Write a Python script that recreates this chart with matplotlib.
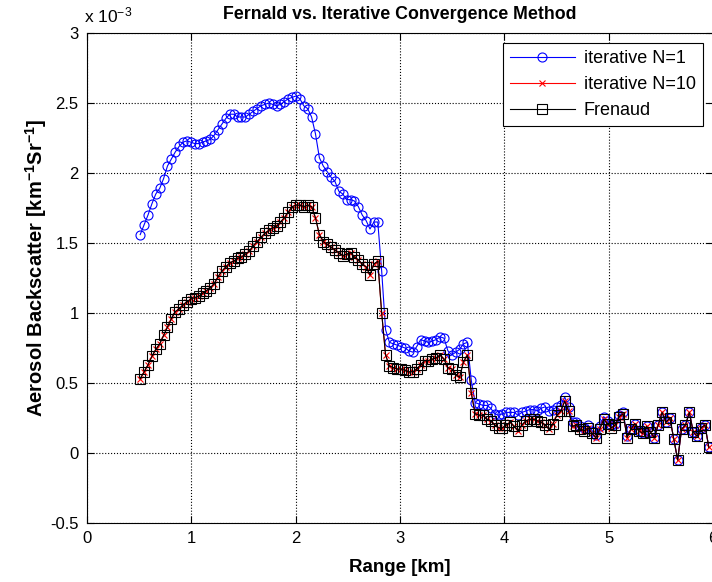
import numpy as np
import matplotlib
matplotlib.use('Agg')
import matplotlib.pyplot as plt

plt.rcParams['font.family'] = ['Liberation Sans', 'DejaVu Sans']
plt.rcParams['axes.unicode_minus'] = False
plt.rcParams['mathtext.default'] = 'regular'

# range gates [km]
range_km = np.linspace(0.51, 5.96, 147)

# backscatter profiles, in units of 1e-3 km^-1 sr^-1
beta_n1 = [
    1.56, 1.63, 1.70, 1.78, 1.85, 1.89, 1.96, 2.05, 2.10, 2.15,
    2.19, 2.22, 2.23, 2.22, 2.21, 2.21, 2.22, 2.23, 2.24, 2.27,
    2.31, 2.35, 2.39, 2.42, 2.42, 2.40, 2.40, 2.40, 2.42, 2.44,
    2.46, 2.48, 2.49, 2.50, 2.49, 2.48, 2.49, 2.51, 2.53, 2.54,
    2.55, 2.53, 2.48, 2.46, 2.40, 2.28, 2.11, 2.05, 2.01, 1.97,
    1.94, 1.87, 1.85, 1.81, 1.81, 1.80, 1.76, 1.70, 1.66, 1.60,
    1.65, 1.65, 1.30, 0.88, 0.79, 0.78, 0.77, 0.76, 0.75, 0.73,
    0.72, 0.76, 0.81, 0.80, 0.79, 0.80, 0.81, 0.83, 0.82, 0.73,
    0.70, 0.72, 0.74, 0.78, 0.79, 0.52, 0.36, 0.35, 0.34, 0.34,
    0.32, 0.28, 0.27, 0.28, 0.29, 0.29, 0.29, 0.27, 0.29, 0.30,
    0.31, 0.31, 0.30, 0.32, 0.33, 0.30, 0.31, 0.33, 0.34, 0.40,
    0.33, 0.22, 0.22, 0.19, 0.18, 0.20, 0.16, 0.13, 0.19, 0.26,
    0.23, 0.20, 0.21, 0.27, 0.29, 0.12, 0.17, 0.21, 0.16, 0.14,
    0.19, 0.15, 0.11, 0.20, 0.29, 0.22, 0.25, 0.10, -0.05, 0.17,
    0.20, 0.29, 0.15, 0.12, 0.18, 0.20, 0.04,
]

beta_n10 = [
    0.53, 0.58, 0.63, 0.69, 0.74, 0.78, 0.84, 0.90, 0.96, 1.01,
    1.03, 1.06, 1.08, 1.10, 1.11, 1.12, 1.14, 1.16, 1.18, 1.21,
    1.26, 1.30, 1.33, 1.36, 1.37, 1.39, 1.40, 1.42, 1.44, 1.48,
    1.51, 1.54, 1.57, 1.59, 1.61, 1.62, 1.65, 1.68, 1.72, 1.76,
    1.77, 1.77, 1.76, 1.77, 1.76, 1.68, 1.56, 1.51, 1.49, 1.47,
    1.45, 1.43, 1.41, 1.42, 1.43, 1.40, 1.38, 1.35, 1.33, 1.27,
    1.35, 1.37, 1.00, 0.70, 0.62, 0.61, 0.60, 0.60, 0.59, 0.58,
    0.58, 0.60, 0.63, 0.66, 0.66, 0.67, 0.68, 0.70, 0.67, 0.61,
    0.60, 0.56, 0.54, 0.65, 0.70, 0.43, 0.28, 0.27, 0.27, 0.24,
    0.23, 0.20, 0.18, 0.18, 0.20, 0.22, 0.19, 0.16, 0.20, 0.23,
    0.24, 0.24, 0.23, 0.22, 0.20, 0.17, 0.21, 0.27, 0.30, 0.37,
    0.30, 0.19, 0.20, 0.17, 0.16, 0.18, 0.14, 0.11, 0.17, 0.24,
    0.21, 0.18, 0.20, 0.26, 0.28, 0.11, 0.17, 0.21, 0.16, 0.14,
    0.19, 0.15, 0.11, 0.20, 0.29, 0.22, 0.25, 0.10, -0.05, 0.17,
    0.20, 0.29, 0.15, 0.12, 0.18, 0.20, 0.04,
]

# Fernald solution coincides with the converged iteration
beta_fernald = beta_n10

fig = plt.figure(figsize=(7.12, 5.82), dpi=100)
ax = fig.add_axes([87 / 712, 59 / 582, 626 / 712, 490 / 582])

ax.plot(range_km, beta_n1, '-o', color='b', lw=0.8, ms=6.5, mfc='none', mew=0.8,
        label='iterative N=1')
ax.plot(range_km, beta_n10, '-x', color='r', lw=0.8, ms=5, mew=0.8,
        label='iterative N=10')
ax.plot(range_km, beta_fernald, '-s', color='k', lw=0.8, ms=7, mfc='none', mew=0.8,
        label='Frenaud')

ax.set_xlim(0, 6)
ax.set_ylim(-0.5, 3)
ax.set_xticks(range(0, 7))
ax.set_yticks([-0.5, 0, 0.5, 1, 1.5, 2, 2.5, 3])
ax.set_yticklabels(['-0.5', '0', '0.5', '1', '1.5', '2', '2.5', '3'])
ax.tick_params(direction='in', top=True, right=True, labelsize=12, length=5,
               width=0.8, pad=6)
ax.grid(True, color='k', ls=':', lw=0.8)
for s in ax.spines.values():
    s.set_linewidth(0.8)

ax.set_title('Fernald vs. Iterative Convergence Method', fontsize=12.8,
             fontweight='bold', pad=10)
ax.set_xlabel('Range [km]', fontsize=13.5, fontweight='bold', labelpad=9)
ax.set_ylabel(r'Aerosol Backscatter [km$^{-1}$Sr$^{-1}$]', fontsize=14.5,
              fontweight='bold')
ax.yaxis.set_label_coords(-0.06, 0.52)
ax.text(-0.004, 1.016, r'x 10$^{-3}$', transform=ax.transAxes, fontsize=12.5,
        ha='left', va='bottom')

leg = ax.legend(loc='upper right', fontsize=13, fancybox=False, framealpha=1,
                edgecolor='k', handlelength=3.6, borderaxespad=0.55,
                labelspacing=0.5, handletextpad=0.5)
leg.get_frame().set_linewidth(0.8)

fig.savefig('out.png', dpi=100)
